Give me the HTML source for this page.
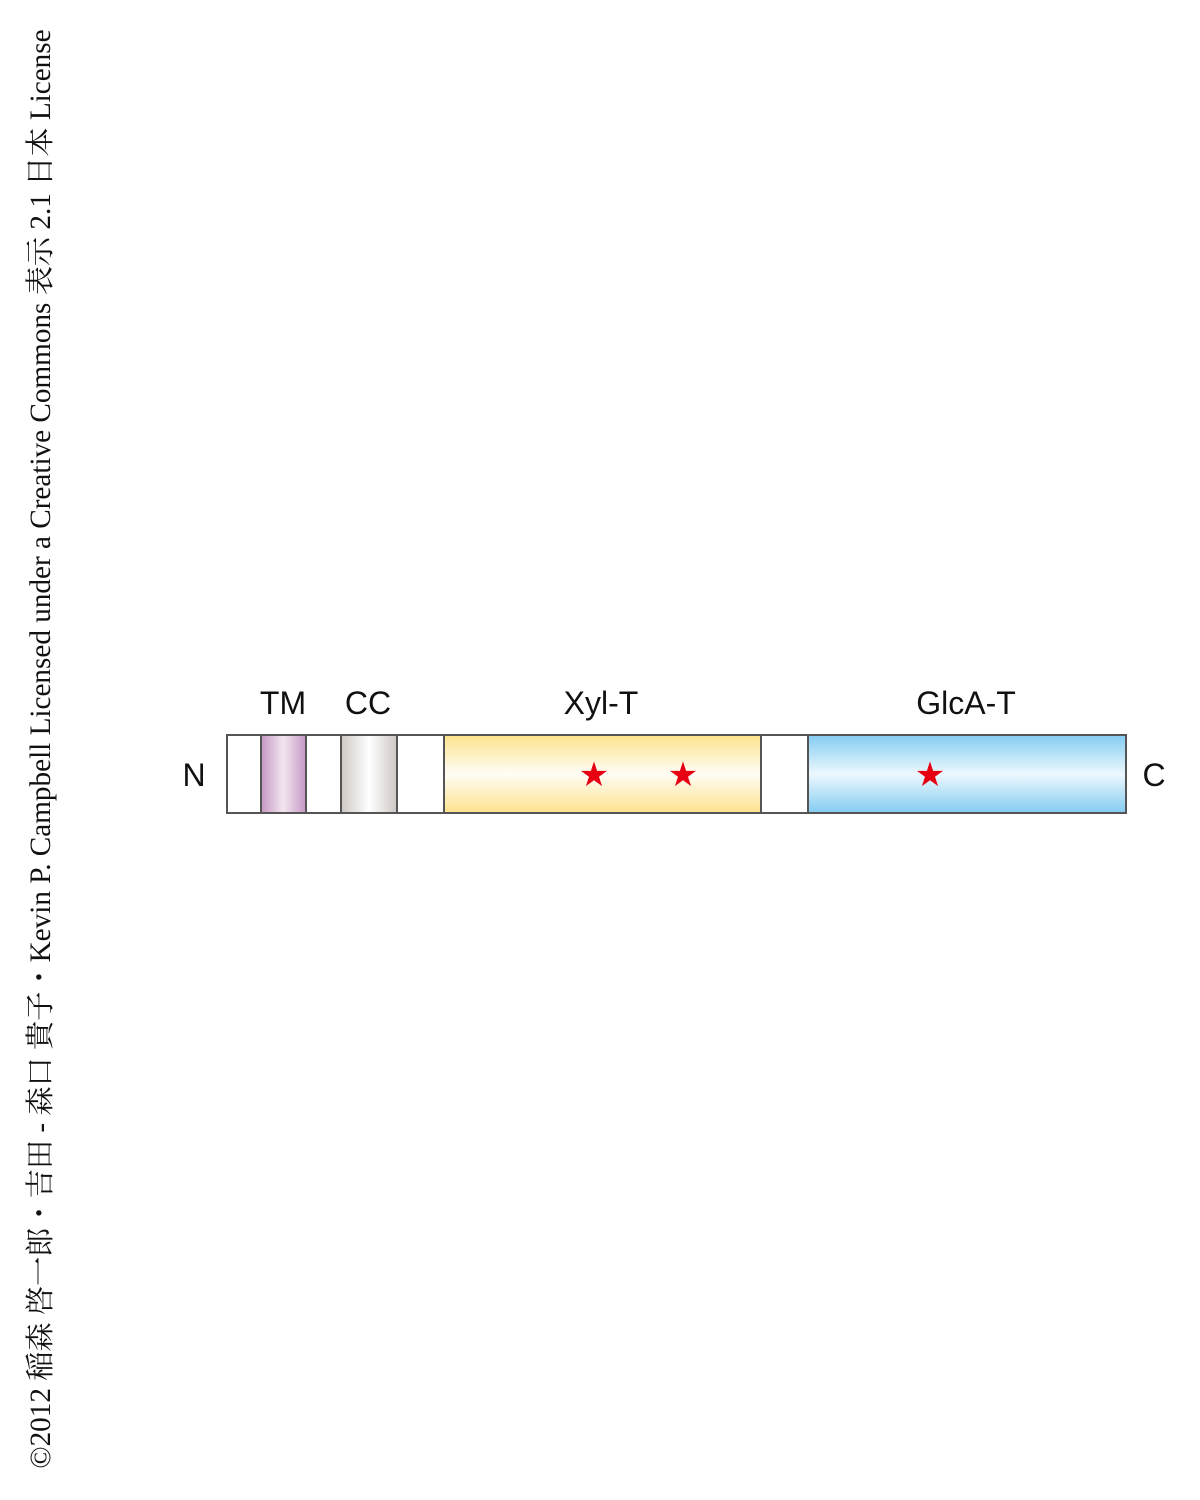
<!DOCTYPE html>
<html><head><meta charset="utf-8"><style>
body{margin:0;width:1200px;height:1500px;background:#fff;position:relative;overflow:hidden;font-family:"Liberation Sans",sans-serif}
.s{position:absolute;top:734px;height:80px;box-sizing:border-box;border:2px solid #555}
.l{position:absolute;font-size:32px;color:#111;transform:translateX(-50%);line-height:1}
.star{position:absolute;color:#e60012;font-size:34px;line-height:1;transform:translate(-50%,-50%)}
.v{position:absolute;left:-681px;top:729px;width:1440px;height:40px;line-height:40px;text-align:center;transform:translateX(2px) rotate(-90deg);font-family:"Liberation Serif","Noto Serif CJK SC",serif;font-size:29.2px;color:#111;white-space:nowrap}
</style></head><body>
<div class="v">©2012 稲森 啓一郎・吉田 - 森口 貴子・Kevin P. Campbell Licensed under a Creative Commons 表示 2.1 日本 License</div>
<div class="s" style="left:226px;width:36px;background:#fff"></div>
<div class="s" style="left:260px;width:47px;background:linear-gradient(90deg,#c79ac6,#f3e6f0 50%,#c79ac6)"></div>
<div class="s" style="left:305px;width:37px;background:#fff"></div>
<div class="s" style="left:340px;width:58px;background:linear-gradient(90deg,#cfc9c6,#fff 50%,#cfc9c6)"></div>
<div class="s" style="left:396px;width:49px;background:#fff"></div>
<div class="s" style="left:443px;width:319px;background:linear-gradient(180deg,#fde38f,#fffdf6 50%,#fde38f)"></div>
<div class="s" style="left:760px;width:49px;background:#fff"></div>
<div class="s" style="left:807px;width:320px;background:linear-gradient(180deg,#86cdf2,#edf8fe 50%,#86cdf2)"></div>
<div class="l" style="left:283px;top:687px">TM</div>
<div class="l" style="left:368px;top:687px">CC</div>
<div class="l" style="left:601px;top:687px">Xyl-T</div>
<div class="l" style="left:966px;top:687px">GlcA-T</div>
<div class="l" style="left:194px;top:759px">N</div>
<div class="l" style="left:1154px;top:759px">C</div>
<div class="star" style="left:594px;top:775px">★</div>
<div class="star" style="left:683px;top:775px">★</div>
<div class="star" style="left:930px;top:775px">★</div>
</body></html>
